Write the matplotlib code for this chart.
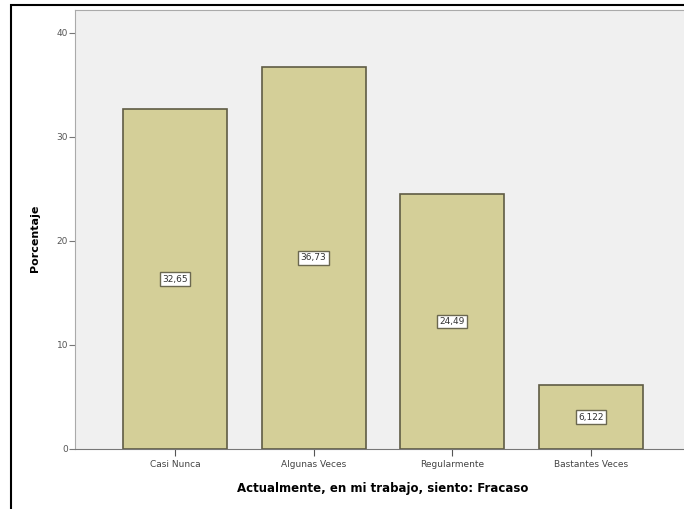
import matplotlib.pyplot as plt
from matplotlib.patches import Rectangle

# Datos del gráfico
categorias = ["Casi Nunca", "Algunas Veces", "Regularmente", "Bastantes Veces"]
porcentajes = [32.65, 36.73, 24.49, 6.122]
etiquetas = ["32,65", "36,73", "24,49", "6,122"]
y_ticks = [0, 10, 20, 30, 40]

fig = plt.figure(figsize=(6.84, 5.09), dpi=100)
ax = fig.add_axes([0.1096, 0.1179, 0.8904, 0.8625])
ax.set_facecolor("#f0f0f0")

x = list(range(len(categorias)))
ax.bar(x, porcentajes, width=0.75, color="#d4cf98", edgecolor="#5f5c45", linewidth=1.2, zorder=2)

# Etiquetas de valor a media altura
for xi, v, t in zip(x, porcentajes, etiquetas):
    ax.text(xi, v / 2, t, ha="center", va="center", fontsize=6.5, color="#333333", zorder=3,
            bbox=dict(boxstyle="square,pad=0.25", facecolor="white", edgecolor="#6b6850", linewidth=1))

ax.set_xlim(-0.72, 3.67)
ax.set_ylim(0, 42.2)
ax.set_yticks(y_ticks)
ax.set_yticklabels([str(t) for t in y_ticks], fontsize=6.5, color="#555555")
ax.set_xticks(x)
ax.set_xticklabels(categorias, fontsize=6.5, color="#444444")
ax.tick_params(axis="y", length=4, color="#777777", pad=1)
ax.tick_params(axis="x", length=5, color="#555555", pad=3)

for s in ["left", "top"]:
    ax.spines[s].set_color("#aaaaaa")
ax.spines["bottom"].set_color("#777777")
ax.spines["right"].set_visible(False)

ax.set_ylabel("Porcentaje", fontsize=8, fontweight="bold")
ax.yaxis.set_label_coords(-(75 - 40) / 609, 0.48)
ax.set_xlabel("Actualmente, en mi trabajo, siento: Fracaso", fontsize=8.5, fontweight="bold")
ax.xaxis.set_label_coords((383 - 75) / 609, -0.075)

# Marco negro alrededor de la imagen
fig.patches.append(Rectangle((11 / 684, -0.05), 1.1, (504 / 509) + 0.05, transform=fig.transFigure,
                             fill=False, edgecolor="black", linewidth=1.5))

fig.savefig("out.png", dpi=100)
